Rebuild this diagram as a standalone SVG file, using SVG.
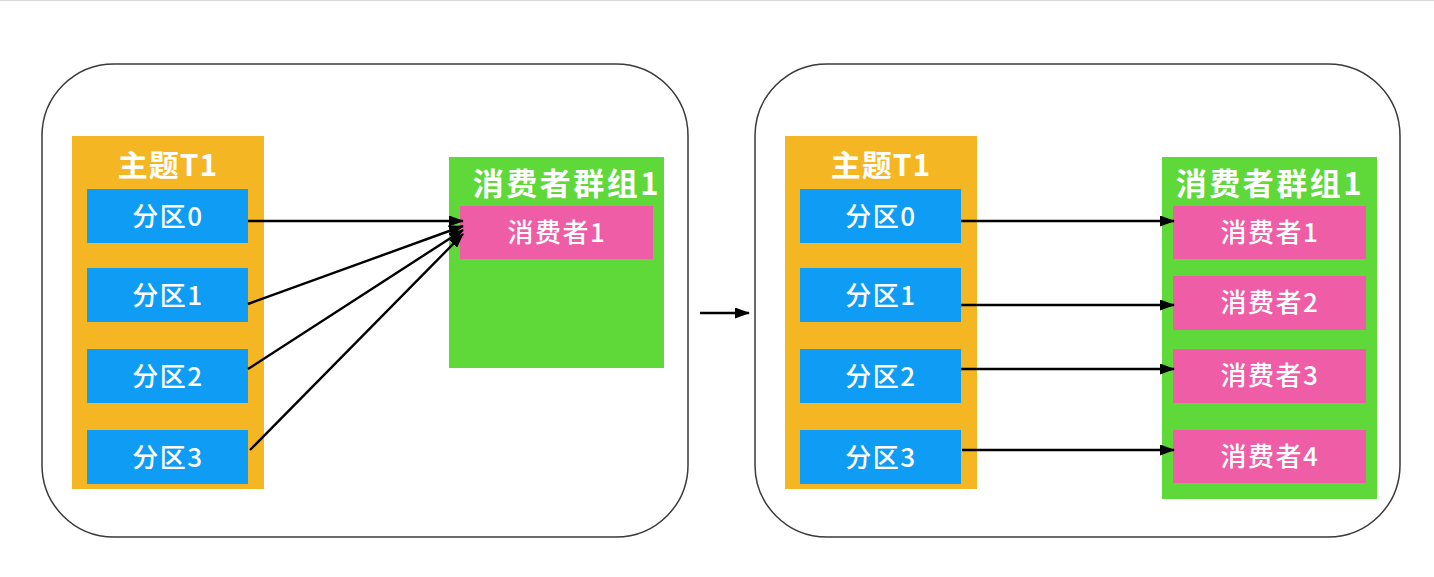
<svg xmlns="http://www.w3.org/2000/svg" width="1434" height="577" viewBox="0 0 1434 577">
<style>
.frame{fill:#fff;stroke:#3a3a3a;stroke-width:1.5}
.topic{fill:#F5B623}
.part{fill:#0E9CF5}
.group{fill:#5FD83A}
.cons{fill:#EE5DA6}
.t{font-family:"Noto Sans CJK SC","Liberation Sans",sans-serif;fill:#fff;text-anchor:middle}
.title{font-size:30px;font-weight:bold;letter-spacing:1px}
.gtitle{font-size:31px;font-weight:bold;letter-spacing:2.5px}
.lbl{font-size:26px;font-weight:500;letter-spacing:1.5px}
.conn line{stroke:#000;stroke-width:2.4;marker-end:url(#ah)}
</style>
<defs>
<marker id="ah" viewBox="0 0 15 11" refX="14" refY="5.5" markerWidth="15" markerHeight="11" markerUnits="userSpaceOnUse" orient="auto">
<path d="M0,0 L15,5.5 L0,11 z" fill="#000"/>
</marker>
</defs>
<rect width="1434" height="577" fill="#fff"/>
<line x1="0" y1="0.5" x2="1434" y2="0.5" stroke="#d8d8d8" stroke-width="1"/>
<g id="frame-left"><rect class="frame" x="42" y="64" width="646" height="473" rx="72" ry="72"/></g>
<g id="frame-right"><rect class="frame" x="755" y="64" width="645" height="473" rx="72" ry="72"/></g>

<g id="topic-left">
<rect class="topic" x="72" y="136" width="192" height="353"/>
<text class="t title" x="168" y="176">主题T1</text>
</g>
<g id="p0-left"><rect class="part" x="87" y="189" width="161" height="54"/><text class="t lbl" x="168" y="226">分区0</text></g>
<g id="p1-left"><rect class="part" x="87" y="268" width="161" height="54"/><text class="t lbl" x="168" y="305">分区1</text></g>
<g id="p2-left"><rect class="part" x="87" y="349" width="161" height="54"/><text class="t lbl" x="168" y="386">分区2</text></g>
<g id="p3-left"><rect class="part" x="87" y="430" width="161" height="54"/><text class="t lbl" x="168" y="467">分区3</text></g>

<g id="group-left">
<rect class="group" x="449" y="157" width="215" height="211"/>
<text class="t gtitle" x="567" y="195">消费者群组1</text>
</g>
<g id="c1-left"><rect class="cons" x="460" y="206" width="193" height="53"/><text class="t lbl" x="557" y="242">消费者1</text></g>

<g id="topic-right">
<rect class="topic" x="785" y="136" width="192" height="353"/>
<text class="t title" x="881" y="176">主题T1</text>
</g>
<g id="p0-right"><rect class="part" x="800" y="189" width="161" height="54"/><text class="t lbl" x="881" y="226">分区0</text></g>
<g id="p1-right"><rect class="part" x="800" y="268" width="161" height="54"/><text class="t lbl" x="881" y="305">分区1</text></g>
<g id="p2-right"><rect class="part" x="800" y="349" width="161" height="54"/><text class="t lbl" x="881" y="386">分区2</text></g>
<g id="p3-right"><rect class="part" x="800" y="430" width="161" height="54"/><text class="t lbl" x="881" y="467">分区3</text></g>

<g id="group-right">
<rect class="group" x="1162" y="157" width="215" height="342"/>
<text class="t gtitle" x="1270" y="195">消费者群组1</text>
</g>
<g id="c1-right"><rect class="cons" x="1173" y="206" width="193" height="53"/><text class="t lbl" x="1270" y="242">消费者1</text></g>
<g id="c2-right"><rect class="cons" x="1173" y="276" width="193" height="54"/><text class="t lbl" x="1270" y="312">消费者2</text></g>
<g id="c3-right"><rect class="cons" x="1173" y="349" width="193" height="54"/><text class="t lbl" x="1270" y="385">消费者3</text></g>
<g id="c4-right"><rect class="cons" x="1173" y="430" width="193" height="53"/><text class="t lbl" x="1270" y="466">消费者4</text></g>

<g id="connectors" class="conn">
<line x1="248" y1="221" x2="463" y2="221"/>
<line x1="248" y1="304" x2="463" y2="226"/>
<line x1="248" y1="369" x2="463" y2="230"/>
<line x1="250" y1="450" x2="463" y2="234"/>
<line x1="700" y1="313" x2="749" y2="313"/>
<line x1="961" y1="221" x2="1174" y2="221"/>
<line x1="961" y1="305" x2="1174" y2="305"/>
<line x1="961" y1="369" x2="1174" y2="369"/>
<line x1="962" y1="450" x2="1174" y2="450"/>
</g>
</svg>
